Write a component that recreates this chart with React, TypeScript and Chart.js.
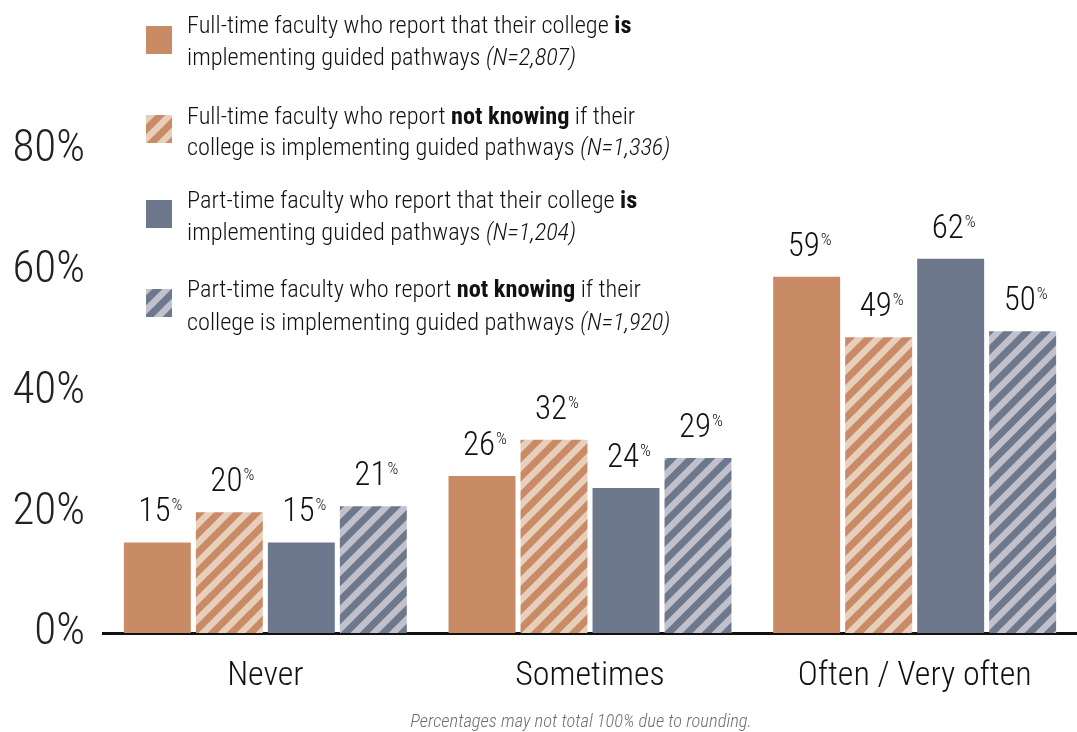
import React, { useEffect, useRef } from "react";
import { Chart, registerables } from "chart.js";

Chart.register(...registerables);

const categories = ["Never", "Sometimes", "Often / Very often"];
const ftIs = [15, 26, 59];
const ftNotKnowing = [20, 32, 49];
const ptIs = [15, 24, 62];
const ptNotKnowing = [21, 29, 50];
const yTickValues = [0, 20, 40, 60, 80];
const seriesNames = [
  "Full-time faculty who report that their college is implementing guided pathways (N=2,807)",
  "Full-time faculty who report not knowing if their college is implementing guided pathways (N=1,336)",
  "Part-time faculty who report that their college is implementing guided pathways (N=1,204)",
  "Part-time faculty who report not knowing if their college is implementing guided pathways (N=1,920)",
];
// legend rich text: [text, style] with style "" | "b" | "i"
const legendLines: [string, string][][][] = [
  [
    [["Full-time faculty who report that their college ", ""], ["is", "b"]],
    [["implementing guided pathways ", ""], ["(N=2,807)", "i"]],
  ],
  [
    [["Full-time faculty who report ", ""], ["not knowing", "b"], [" if their", ""]],
    [["college is implementing guided pathways ", ""], ["(N=1,336)", "i"]],
  ],
  [
    [["Part-time faculty who report that their college ", ""], ["is", "b"]],
    [["implementing guided pathways ", ""], ["(N=1,204)", "i"]],
  ],
  [
    [["Part-time faculty who report ", ""], ["not knowing", "b"], [" if their", ""]],
    [["college is implementing guided pathways ", ""], ["(N=1,920)", "i"]],
  ],
];
const footnote = "Percentages may not total 100% due to rounding.";

const FONT = "'Roboto Condensed', 'Liberation Sans Narrow', 'DejaVu Sans Condensed', 'Liberation Sans', sans-serif";
const ORANGE = "#C98B66";
const ORANGE_LIGHT = "#E8CFBB";
const SLATE = "#6E788C";
const SLATE_LIGHT = "#C0C1CC";

function makeStripes(base: string, light: string): CanvasPattern | string {
  const T = 19;
  const c = document.createElement("canvas");
  c.width = T;
  c.height = T;
  const g = c.getContext("2d");
  if (!g) return base;
  g.fillStyle = base;
  g.fillRect(0, 0, T, T);
  g.strokeStyle = light;
  g.lineWidth = 6.5;
  g.beginPath();
  g.moveTo(-T / 2, T / 2);
  g.lineTo(T / 2, -T / 2);
  g.moveTo(0, T);
  g.lineTo(T, 0);
  g.moveTo(T / 2, (3 * T) / 2);
  g.lineTo((3 * T) / 2, T / 2);
  g.stroke();
  const p = g.createPattern(c, "repeat");
  return p || base;
}

export default function App() {
  const ref = useRef<HTMLCanvasElement | null>(null);

  useEffect(() => {
    document.body.style.margin = "0";
    const canvas = ref.current;
    if (!canvas) return;
    const ftNK = makeStripes(ORANGE, ORANGE_LIGHT);
    const ptNK = makeStripes(SLATE, SLATE_LIGHT);
    const fills = [ORANGE, ftNK, SLATE, ptNK];

    const overlay = {
      id: "overlay",
      afterDatasetsDraw(chart: any) {
        const ctx = chart.ctx;
        ctx.save();
        // value labels
        chart.data.datasets.forEach((ds: any, di: number) => {
          const meta = chart.getDatasetMeta(di);
          meta.data.forEach((bar: any, i: number) => {
            const v = ds.data[i];
            const num = String(v);
            ctx.font = `300 33px ${FONT}`;
            const nw = ctx.measureText(num).width;
            ctx.font = `300 17px ${FONT}`;
            const pw = ctx.measureText("%").width;
            const total = nw + 1 + pw;
            const start = bar.x - total / 2 + 3;
            const base = bar.y - 21;
            ctx.fillStyle = "#111";
            ctx.textAlign = "left";
            ctx.textBaseline = "alphabetic";
            ctx.font = `300 33px ${FONT}`;
            ctx.fillText(num, start, base);
            ctx.font = `300 17px ${FONT}`;
            ctx.fillText("%", start + nw + 1, base - 11);
          });
        });
        // legend
        const swatchY = [26, 115, 200, 289];
        const lineBase = [
          [33, 65],
          [124, 155],
          [208, 240],
          [297, 330],
        ];
        legendLines.forEach((lines, li) => {
          ctx.fillStyle = fills[li];
          ctx.fillRect(146, swatchY[li], 26, 28);
          lines.forEach((segs, k) => {
            let x = 187;
            segs.forEach(([t, s]) => {
              const w = s === "b" ? "bold " : "300 ";
              const it = s === "i" ? "italic " : "";
              ctx.font = `${it}${w}24.3px ${FONT}`;
              ctx.fillStyle = "#111";
              ctx.textAlign = "left";
              ctx.textBaseline = "alphabetic";
              ctx.fillText(t, x, lineBase[li][k]);
              x += ctx.measureText(t).width;
            });
          });
        });
        // footnote
        ctx.font = `italic 300 18.5px ${FONT}`;
        ctx.fillStyle = "#6f6f6f";
        ctx.textAlign = "center";
        ctx.textBaseline = "alphabetic";
        ctx.fillText(footnote, 581, 727);
        ctx.restore();
      },
    };

    const chart = new Chart(canvas, {
      type: "bar",
      data: {
        labels: categories,
        datasets: [
          { label: seriesNames[0], data: ftIs, backgroundColor: fills[0] as any },
          { label: seriesNames[1], data: ftNotKnowing, backgroundColor: fills[1] as any },
          { label: seriesNames[2], data: ptIs, backgroundColor: fills[2] as any },
          { label: seriesNames[3], data: ptNotKnowing, backgroundColor: fills[3] as any },
        ],
      },
      options: {
        responsive: false,
        animation: false,
        layout: { padding: { top: 150, left: 0, right: 0, bottom: 0 } },
        datasets: { bar: { categoryPercentage: 0.887, barPercentage: 0.93 } } as any,
        plugins: { legend: { display: false }, tooltip: { enabled: false } },
        scales: {
          x: {
            grid: { display: false, drawTicks: false },
            border: { display: true, color: "#111", width: 3 },
            ticks: { font: { family: FONT, size: 34, weight: "300" as any }, color: "#111", padding: 23 },
            afterFit: (s: any) => {
              s.height = 99;
            },
          },
          y: {
            min: 0,
            max: 80,
            afterBuildTicks: (s: any) => {
              s.ticks = yTickValues.map((v) => ({ value: v }));
            },
            ticks: {
              font: { family: FONT, size: 45, weight: "300" as any },
              color: "#222",
              padding: 18,
              callback: (v: any) => `${v}%`,
            },
            grid: { display: false, drawTicks: false },
            border: { display: false },
            afterFit: (s: any) => {
              s.width = 103;
            },
          },
        },
      },
      plugins: [overlay],
    });
    return () => chart.destroy();
  }, []);

  return (
    <div style={{ width: 1077, height: 732 }}>
      <canvas ref={ref} width={1077} height={732} style={{ display: "block" }} />
    </div>
  );
}
